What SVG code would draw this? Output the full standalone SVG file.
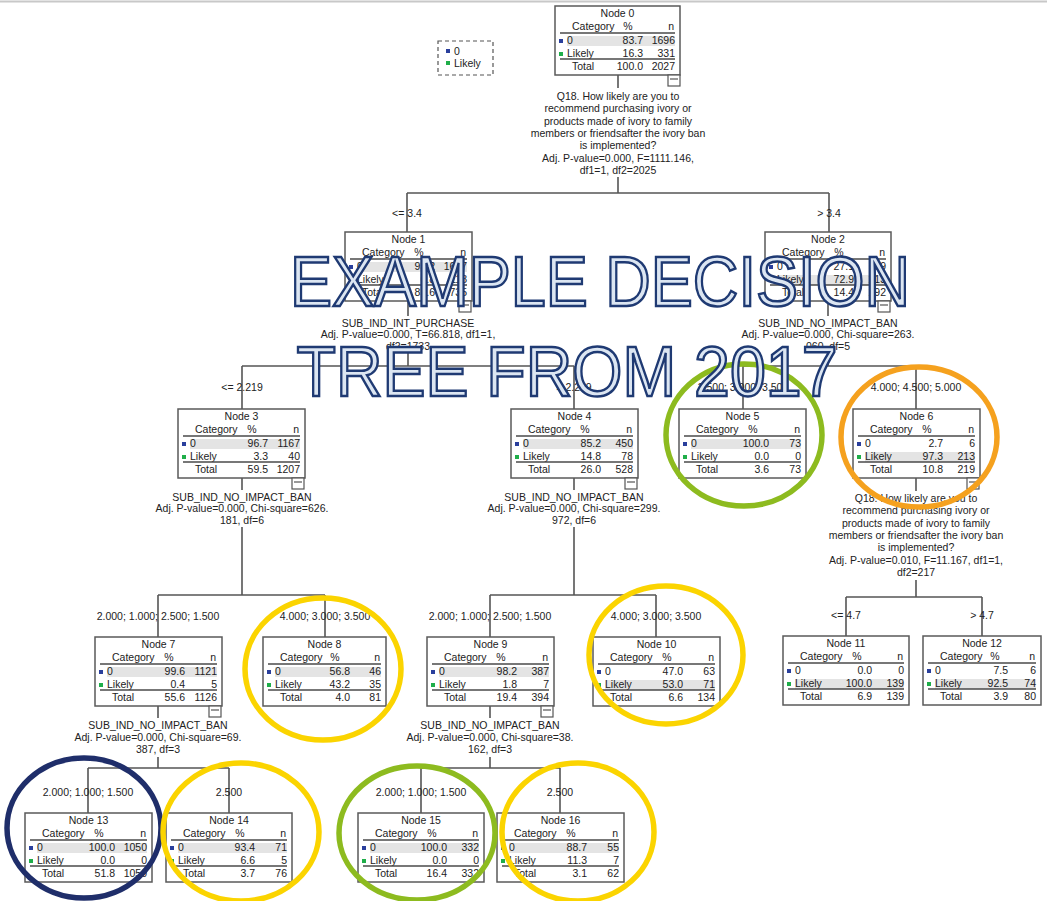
<svg xmlns="http://www.w3.org/2000/svg" width="1047" height="901" viewBox="0 0 1047 901">
<style>
.bg{fill:#fff}
.box{fill:#fff;stroke:#5a5a5a;stroke-width:1.5}
.t{font-family:"Liberation Sans",Arial,sans-serif;font-size:10.5px;fill:#222}
.s{font-family:"Liberation Sans",Arial,sans-serif;font-size:10.5px;fill:#222;text-anchor:middle}
.m{text-anchor:middle}
.e{text-anchor:end}
.hl{fill:#e4e4e4}
.sep{stroke:#4a4a4a;stroke-width:1.6}
.b{fill:#2a3f9c}
.g{fill:#1fae4a}
.conn{stroke:#555;stroke-width:1.6;fill:none}
.icon{fill:#fff;stroke:#555;stroke-width:1.2}
.ring{fill:none;stroke-width:5.5}
.title{font-family:"Liberation Sans",Arial,sans-serif;font-size:70px;fill:#dce6f2;stroke:#1f3a73;stroke-width:2.5;text-anchor:middle}
</style>
<rect class="bg" width="1047" height="901"/>
<line x1="0" y1="1.5" x2="1047" y2="1.5" stroke="#c8c8c8" stroke-width="2"/>

<g id="legend">
<rect x="438" y="41" width="55" height="34" fill="#fff" stroke="#555" stroke-width="1.2" stroke-dasharray="4,3"/>
<rect class="b" x="446" y="49" width="4" height="4"/><text class="t" x="454" y="55">0</text>
<rect class="g" x="446" y="61" width="4" height="4"/><text class="t" x="454" y="67">Likely</text>
</g>

<g id="connectors">
<path class="conn" d="M618,75V88M618,177V193M407,193H829M407,193V232M829,193V232"/>
<path class="conn" d="M408,300V316M408,352V366M242,366H574M242,366V409M574,366V409"/>
<path class="conn" d="M828,300V316M828,352V366M743,366H916M743,366V409M916,366V409"/>
<path class="conn" d="M242,478V490M242,527V595M158,595H325M158,595V637M325,595V637"/>
<path class="conn" d="M574,478V490M574,527V595M490,595H656M490,595V637M656,595V637"/>
<path class="conn" d="M916,478V491M916,580V597M846,597H982M846,597V636M982,597V636"/>
<path class="conn" d="M158,706V718M158,757V768M88,768H229M88,768V813M229,768V813"/>
<path class="conn" d="M490,706V718M490,757V768M421,768H560M421,768V813M560,768V813"/>
<g class="t m" font-size="11px">
<text x="407" y="217">&lt;= 3.4</text><text x="829" y="217">&gt; 3.4</text>
<text x="242" y="391">&lt;= 2.219</text><text x="574" y="391">&gt; 2.219</text>
<text x="743" y="391">2.500; 3.000; 3.500</text><text x="916" y="391">4.000; 4.500; 5.000</text>
<text x="158" y="620">2.000; 1.000; 2.500; 1.500</text><text x="325" y="620">4.000; 3.000; 3.500</text>
<text x="490" y="620">2.000; 1.000; 2.500; 1.500</text><text x="656" y="620">4.000; 3.000; 3.500</text>
<text x="846" y="619">&lt;= 4.7</text><text x="982" y="619">&gt; 4.7</text>
<text x="88" y="796">2.000; 1.000; 1.500</text><text x="229" y="796">2.500</text>
<text x="421" y="796">2.000; 1.000; 1.500</text><text x="560" y="796">2.500</text>
</g>
<g class="s">
<text x="618" y="100">Q18. How likely are you to</text>
<text x="618" y="112">recommend purchasing ivory or</text>
<text x="618" y="125">products made of ivory to family</text>
<text x="618" y="137">members or friendsafter the ivory ban</text>
<text x="618" y="149">is implemented?</text>
<text x="618" y="162">Adj. P-value=0.000, F=1111.146,</text>
<text x="618" y="174">df1=1, df2=2025</text>
<text x="408" y="327">SUB_IND_INT_PURCHASE</text>
<text x="408" y="338">Adj. P-value=0.000, T=66.818, df1=1,</text>
<text x="408" y="350">df2=1733</text>
<text x="828" y="327">SUB_IND_NO_IMPACT_BAN</text>
<text x="828" y="338">Adj. P-value=0.000, Chi-square=263.</text>
<text x="828" y="350">060, df=5</text>
<text x="242" y="501">SUB_IND_NO_IMPACT_BAN</text>
<text x="242" y="512">Adj. P-value=0.000, Chi-square=626.</text>
<text x="242" y="524">181, df=6</text>
<text x="574" y="501">SUB_IND_NO_IMPACT_BAN</text>
<text x="574" y="512">Adj. P-value=0.000, Chi-square=299.</text>
<text x="574" y="524">972, df=6</text>
<text x="916" y="502">Q18. How likely are you to</text>
<text x="916" y="514">recommend purchasing ivory or</text>
<text x="916" y="527">products made of ivory to family</text>
<text x="916" y="539">members or friendsafter the ivory ban</text>
<text x="916" y="551">is implemented?</text>
<text x="916" y="564">Adj. P-value=0.010, F=11.167, df1=1,</text>
<text x="916" y="576">df2=217</text>
<text x="158" y="729">SUB_IND_NO_IMPACT_BAN</text>
<text x="158" y="741">Adj. P-value=0.000, Chi-square=69.</text>
<text x="158" y="753">387, df=3</text>
<text x="490" y="729">SUB_IND_NO_IMPACT_BAN</text>
<text x="490" y="741">Adj. P-value=0.000, Chi-square=38.</text>
<text x="490" y="753">162, df=3</text>
</g>
</g>

<g id="node0" transform="translate(555,6)">
<rect class="box" width="125" height="69"/>
<rect class="hl" x="12" y="30" width="108" height="10"/>
<text class="t m" x="62.5" y="11">Node 0</text>
<text class="t" x="17" y="24">Category</text><text class="t m" x="73" y="24">%</text><text class="t e" x="119" y="24">n</text>
<line class="sep" x1="5" y1="27" x2="120" y2="27"/>
<rect class="b" x="4" y="33" width="4" height="4"/><text class="t" x="12" y="38">0</text><text class="t e" x="88" y="38">83.7</text><text class="t e" x="120" y="38">1696</text>
<rect class="g" x="4" y="46" width="4" height="4"/><text class="t" x="12" y="51">Likely</text><text class="t e" x="88" y="51">16.3</text><text class="t e" x="120" y="51">331</text>
<line class="sep" x1="5" y1="53" x2="120" y2="53"/>
<text class="t" x="17" y="64">Total</text><text class="t e" x="88" y="64">100.0</text><text class="t e" x="120" y="64">2027</text>
<rect class="icon" x="113" y="69" width="12" height="11"/><line class="icon" x1="115" y1="73" x2="123" y2="73"/>
</g>

<g id="node1" transform="translate(345,232)">
<rect class="box" width="127" height="69"/>
<rect class="hl" x="12" y="30" width="110" height="10"/>
<text class="t m" x="63.5" y="11">Node 1</text>
<text class="t" x="17" y="24">Category</text><text class="t m" x="74" y="24">%</text><text class="t e" x="121" y="24">n</text>
<line class="sep" x1="5" y1="27" x2="122" y2="27"/>
<rect class="b" x="4" y="33" width="4" height="4"/><text class="t" x="12" y="38">0</text><text class="t e" x="90" y="38">93.2</text><text class="t e" x="122" y="38">1617</text>
<rect class="g" x="4" y="46" width="4" height="4"/><text class="t" x="12" y="51">Likely</text><text class="t e" x="90" y="51">6.8</text><text class="t e" x="122" y="51">118</text>
<line class="sep" x1="5" y1="53" x2="122" y2="53"/>
<text class="t" x="17" y="64">Total</text><text class="t e" x="90" y="64">85.6</text><text class="t e" x="122" y="64">1735</text>
<rect class="icon" x="114" y="69" width="12" height="11"/><line class="icon" x1="116" y1="73" x2="124" y2="73"/>
</g>

<g id="node2" transform="translate(765,232)">
<rect class="box" width="126" height="69"/>
<rect class="hl" x="12" y="43" width="109" height="10"/>
<text class="t m" x="63" y="11">Node 2</text>
<text class="t" x="17" y="24">Category</text><text class="t m" x="74" y="24">%</text><text class="t e" x="120" y="24">n</text>
<line class="sep" x1="5" y1="27" x2="121" y2="27"/>
<rect class="b" x="4" y="33" width="4" height="4"/><text class="t" x="12" y="38">0</text><text class="t e" x="89" y="38">27.1</text><text class="t e" x="121" y="38">79</text>
<rect class="g" x="4" y="46" width="4" height="4"/><text class="t" x="12" y="51">Likely</text><text class="t e" x="89" y="51">72.9</text><text class="t e" x="121" y="51">213</text>
<line class="sep" x1="5" y1="53" x2="121" y2="53"/>
<text class="t" x="17" y="64">Total</text><text class="t e" x="89" y="64">14.4</text><text class="t e" x="121" y="64">292</text>
<rect class="icon" x="113" y="69" width="12" height="11"/><line class="icon" x1="115" y1="73" x2="123" y2="73"/>
</g>

<g id="node3" transform="translate(178,409)">
<rect class="box" width="127" height="69"/>
<rect class="hl" x="12" y="30" width="110" height="10"/>
<text class="t m" x="63.5" y="11">Node 3</text>
<text class="t" x="17" y="24">Category</text><text class="t m" x="74" y="24">%</text><text class="t e" x="121" y="24">n</text>
<line class="sep" x1="5" y1="27" x2="122" y2="27"/>
<rect class="b" x="4" y="33" width="4" height="4"/><text class="t" x="12" y="38">0</text><text class="t e" x="90" y="38">96.7</text><text class="t e" x="122" y="38">1167</text>
<rect class="g" x="4" y="46" width="4" height="4"/><text class="t" x="12" y="51">Likely</text><text class="t e" x="90" y="51">3.3</text><text class="t e" x="122" y="51">40</text>
<line class="sep" x1="5" y1="53" x2="122" y2="53"/>
<text class="t" x="17" y="64">Total</text><text class="t e" x="90" y="64">59.5</text><text class="t e" x="122" y="64">1207</text>
<rect class="icon" x="114" y="69" width="12" height="11"/><line class="icon" x1="116" y1="73" x2="124" y2="73"/>
</g>

<g id="node4" transform="translate(511,409)">
<rect class="box" width="127" height="69"/>
<rect class="hl" x="12" y="30" width="110" height="10"/>
<text class="t m" x="63.5" y="11">Node 4</text>
<text class="t" x="17" y="24">Category</text><text class="t m" x="74" y="24">%</text><text class="t e" x="121" y="24">n</text>
<line class="sep" x1="5" y1="27" x2="122" y2="27"/>
<rect class="b" x="4" y="33" width="4" height="4"/><text class="t" x="12" y="38">0</text><text class="t e" x="90" y="38">85.2</text><text class="t e" x="122" y="38">450</text>
<rect class="g" x="4" y="46" width="4" height="4"/><text class="t" x="12" y="51">Likely</text><text class="t e" x="90" y="51">14.8</text><text class="t e" x="122" y="51">78</text>
<line class="sep" x1="5" y1="53" x2="122" y2="53"/>
<text class="t" x="17" y="64">Total</text><text class="t e" x="90" y="64">26.0</text><text class="t e" x="122" y="64">528</text>
<rect class="icon" x="114" y="69" width="12" height="11"/><line class="icon" x1="116" y1="73" x2="124" y2="73"/>
</g>

<g id="node5" transform="translate(679,409)">
<rect class="box" width="127" height="69"/>
<rect class="hl" x="12" y="30" width="110" height="10"/>
<text class="t m" x="63.5" y="11">Node 5</text>
<text class="t" x="17" y="24">Category</text><text class="t m" x="74" y="24">%</text><text class="t e" x="121" y="24">n</text>
<line class="sep" x1="5" y1="27" x2="122" y2="27"/>
<rect class="b" x="4" y="33" width="4" height="4"/><text class="t" x="12" y="38">0</text><text class="t e" x="90" y="38">100.0</text><text class="t e" x="122" y="38">73</text>
<rect class="g" x="4" y="46" width="4" height="4"/><text class="t" x="12" y="51">Likely</text><text class="t e" x="90" y="51">0.0</text><text class="t e" x="122" y="51">0</text>
<line class="sep" x1="5" y1="53" x2="122" y2="53"/>
<text class="t" x="17" y="64">Total</text><text class="t e" x="90" y="64">3.6</text><text class="t e" x="122" y="64">73</text>
</g>

<g id="node6" transform="translate(853,409)">
<rect class="box" width="127" height="69"/>
<rect class="hl" x="12" y="43" width="110" height="10"/>
<text class="t m" x="63.5" y="11">Node 6</text>
<text class="t" x="17" y="24">Category</text><text class="t m" x="74" y="24">%</text><text class="t e" x="121" y="24">n</text>
<line class="sep" x1="5" y1="27" x2="122" y2="27"/>
<rect class="b" x="4" y="33" width="4" height="4"/><text class="t" x="12" y="38">0</text><text class="t e" x="90" y="38">2.7</text><text class="t e" x="122" y="38">6</text>
<rect class="g" x="4" y="46" width="4" height="4"/><text class="t" x="12" y="51">Likely</text><text class="t e" x="90" y="51">97.3</text><text class="t e" x="122" y="51">213</text>
<line class="sep" x1="5" y1="53" x2="122" y2="53"/>
<text class="t" x="17" y="64">Total</text><text class="t e" x="90" y="64">10.8</text><text class="t e" x="122" y="64">219</text>
<rect class="icon" x="114" y="69" width="12" height="11"/><line class="icon" x1="116" y1="73" x2="124" y2="73"/>
</g>

<g id="node7" transform="translate(95,637)">
<rect class="box" width="127" height="69"/>
<rect class="hl" x="12" y="30" width="110" height="10"/>
<text class="t m" x="63.5" y="11">Node 7</text>
<text class="t" x="17" y="24">Category</text><text class="t m" x="74" y="24">%</text><text class="t e" x="121" y="24">n</text>
<line class="sep" x1="5" y1="27" x2="122" y2="27"/>
<rect class="b" x="4" y="33" width="4" height="4"/><text class="t" x="12" y="38">0</text><text class="t e" x="90" y="38">99.6</text><text class="t e" x="122" y="38">1121</text>
<rect class="g" x="4" y="46" width="4" height="4"/><text class="t" x="12" y="51">Likely</text><text class="t e" x="90" y="51">0.4</text><text class="t e" x="122" y="51">5</text>
<line class="sep" x1="5" y1="53" x2="122" y2="53"/>
<text class="t" x="17" y="64">Total</text><text class="t e" x="90" y="64">55.6</text><text class="t e" x="122" y="64">1126</text>
<rect class="icon" x="114" y="69" width="12" height="11"/><line class="icon" x1="116" y1="73" x2="124" y2="73"/>
</g>

<g id="node8" transform="translate(263,637)">
<rect class="box" width="123" height="69"/>
<rect class="hl" x="12" y="30" width="106" height="10"/>
<text class="t m" x="61.5" y="11">Node 8</text>
<text class="t" x="17" y="24">Category</text><text class="t m" x="72" y="24">%</text><text class="t e" x="117" y="24">n</text>
<line class="sep" x1="5" y1="27" x2="118" y2="27"/>
<rect class="b" x="4" y="33" width="4" height="4"/><text class="t" x="12" y="38">0</text><text class="t e" x="87" y="38">56.8</text><text class="t e" x="118" y="38">46</text>
<rect class="g" x="4" y="46" width="4" height="4"/><text class="t" x="12" y="51">Likely</text><text class="t e" x="87" y="51">43.2</text><text class="t e" x="118" y="51">35</text>
<line class="sep" x1="5" y1="53" x2="118" y2="53"/>
<text class="t" x="17" y="64">Total</text><text class="t e" x="87" y="64">4.0</text><text class="t e" x="118" y="64">81</text>
</g>

<g id="node9" transform="translate(427,637)">
<rect class="box" width="127" height="69"/>
<rect class="hl" x="12" y="30" width="110" height="10"/>
<text class="t m" x="63.5" y="11">Node 9</text>
<text class="t" x="17" y="24">Category</text><text class="t m" x="74" y="24">%</text><text class="t e" x="121" y="24">n</text>
<line class="sep" x1="5" y1="27" x2="122" y2="27"/>
<rect class="b" x="4" y="33" width="4" height="4"/><text class="t" x="12" y="38">0</text><text class="t e" x="90" y="38">98.2</text><text class="t e" x="122" y="38">387</text>
<rect class="g" x="4" y="46" width="4" height="4"/><text class="t" x="12" y="51">Likely</text><text class="t e" x="90" y="51">1.8</text><text class="t e" x="122" y="51">7</text>
<line class="sep" x1="5" y1="53" x2="122" y2="53"/>
<text class="t" x="17" y="64">Total</text><text class="t e" x="90" y="64">19.4</text><text class="t e" x="122" y="64">394</text>
<rect class="icon" x="114" y="69" width="12" height="11"/><line class="icon" x1="116" y1="73" x2="124" y2="73"/>
</g>

<g id="node10" transform="translate(593,637)">
<rect class="box" width="127" height="69"/>
<rect class="hl" x="12" y="43" width="110" height="10"/>
<text class="t m" x="63.5" y="11">Node 10</text>
<text class="t" x="17" y="24">Category</text><text class="t m" x="74" y="24">%</text><text class="t e" x="121" y="24">n</text>
<line class="sep" x1="5" y1="27" x2="122" y2="27"/>
<rect class="b" x="4" y="33" width="4" height="4"/><text class="t" x="12" y="38">0</text><text class="t e" x="90" y="38">47.0</text><text class="t e" x="122" y="38">63</text>
<rect class="g" x="4" y="46" width="4" height="4"/><text class="t" x="12" y="51">Likely</text><text class="t e" x="90" y="51">53.0</text><text class="t e" x="122" y="51">71</text>
<line class="sep" x1="5" y1="53" x2="122" y2="53"/>
<text class="t" x="17" y="64">Total</text><text class="t e" x="90" y="64">6.6</text><text class="t e" x="122" y="64">134</text>
</g>

<g id="node11" transform="translate(783,636)">
<rect class="box" width="126" height="69"/>
<rect class="hl" x="12" y="43" width="109" height="10"/>
<text class="t m" x="63" y="11">Node 11</text>
<text class="t" x="17" y="24">Category</text><text class="t m" x="74" y="24">%</text><text class="t e" x="120" y="24">n</text>
<line class="sep" x1="5" y1="27" x2="121" y2="27"/>
<rect class="b" x="4" y="33" width="4" height="4"/><text class="t" x="12" y="38">0</text><text class="t e" x="89" y="38">0.0</text><text class="t e" x="121" y="38">0</text>
<rect class="g" x="4" y="46" width="4" height="4"/><text class="t" x="12" y="51">Likely</text><text class="t e" x="89" y="51">100.0</text><text class="t e" x="121" y="51">139</text>
<line class="sep" x1="5" y1="53" x2="121" y2="53"/>
<text class="t" x="17" y="64">Total</text><text class="t e" x="89" y="64">6.9</text><text class="t e" x="121" y="64">139</text>
</g>

<g id="node12" transform="translate(923,636)">
<rect class="box" width="118" height="69"/>
<rect class="hl" x="12" y="43" width="101" height="10"/>
<text class="t m" x="59" y="11">Node 12</text>
<text class="t" x="17" y="24">Category</text><text class="t m" x="72" y="24">%</text><text class="t e" x="112" y="24">n</text>
<line class="sep" x1="5" y1="27" x2="113" y2="27"/>
<rect class="b" x="4" y="33" width="4" height="4"/><text class="t" x="12" y="38">0</text><text class="t e" x="85" y="38">7.5</text><text class="t e" x="113" y="38">6</text>
<rect class="g" x="4" y="46" width="4" height="4"/><text class="t" x="12" y="51">Likely</text><text class="t e" x="85" y="51">92.5</text><text class="t e" x="113" y="51">74</text>
<line class="sep" x1="5" y1="53" x2="113" y2="53"/>
<text class="t" x="17" y="64">Total</text><text class="t e" x="85" y="64">3.9</text><text class="t e" x="113" y="64">80</text>
</g>

<g id="node13" transform="translate(25,813)">
<rect class="box" width="127" height="69"/>
<rect class="hl" x="12" y="30" width="110" height="10"/>
<text class="t m" x="63.5" y="11">Node 13</text>
<text class="t" x="17" y="24">Category</text><text class="t m" x="74" y="24">%</text><text class="t e" x="121" y="24">n</text>
<line class="sep" x1="5" y1="27" x2="122" y2="27"/>
<rect class="b" x="4" y="33" width="4" height="4"/><text class="t" x="12" y="38">0</text><text class="t e" x="90" y="38">100.0</text><text class="t e" x="122" y="38">1050</text>
<rect class="g" x="4" y="46" width="4" height="4"/><text class="t" x="12" y="51">Likely</text><text class="t e" x="90" y="51">0.0</text><text class="t e" x="122" y="51">0</text>
<line class="sep" x1="5" y1="53" x2="122" y2="53"/>
<text class="t" x="17" y="64">Total</text><text class="t e" x="90" y="64">51.8</text><text class="t e" x="122" y="64">1050</text>
</g>

<g id="node14" transform="translate(166,813)">
<rect class="box" width="126" height="69"/>
<rect class="hl" x="12" y="30" width="109" height="10"/>
<text class="t m" x="63" y="11">Node 14</text>
<text class="t" x="17" y="24">Category</text><text class="t m" x="74" y="24">%</text><text class="t e" x="120" y="24">n</text>
<line class="sep" x1="5" y1="27" x2="121" y2="27"/>
<rect class="b" x="4" y="33" width="4" height="4"/><text class="t" x="12" y="38">0</text><text class="t e" x="89" y="38">93.4</text><text class="t e" x="121" y="38">71</text>
<rect class="g" x="4" y="46" width="4" height="4"/><text class="t" x="12" y="51">Likely</text><text class="t e" x="89" y="51">6.6</text><text class="t e" x="121" y="51">5</text>
<line class="sep" x1="5" y1="53" x2="121" y2="53"/>
<text class="t" x="17" y="64">Total</text><text class="t e" x="89" y="64">3.7</text><text class="t e" x="121" y="64">76</text>
</g>

<g id="node15" transform="translate(358,813)">
<rect class="box" width="126" height="69"/>
<rect class="hl" x="12" y="30" width="109" height="10"/>
<text class="t m" x="63" y="11">Node 15</text>
<text class="t" x="17" y="24">Category</text><text class="t m" x="74" y="24">%</text><text class="t e" x="120" y="24">n</text>
<line class="sep" x1="5" y1="27" x2="121" y2="27"/>
<rect class="b" x="4" y="33" width="4" height="4"/><text class="t" x="12" y="38">0</text><text class="t e" x="89" y="38">100.0</text><text class="t e" x="121" y="38">332</text>
<rect class="g" x="4" y="46" width="4" height="4"/><text class="t" x="12" y="51">Likely</text><text class="t e" x="89" y="51">0.0</text><text class="t e" x="121" y="51">0</text>
<line class="sep" x1="5" y1="53" x2="121" y2="53"/>
<text class="t" x="17" y="64">Total</text><text class="t e" x="89" y="64">16.4</text><text class="t e" x="121" y="64">332</text>
</g>

<g id="node16" transform="translate(497,813)">
<rect class="box" width="127" height="69"/>
<rect class="hl" x="12" y="30" width="110" height="10"/>
<text class="t m" x="63.5" y="11">Node 16</text>
<text class="t" x="17" y="24">Category</text><text class="t m" x="74" y="24">%</text><text class="t e" x="121" y="24">n</text>
<line class="sep" x1="5" y1="27" x2="122" y2="27"/>
<rect class="b" x="4" y="33" width="4" height="4"/><text class="t" x="12" y="38">0</text><text class="t e" x="90" y="38">88.7</text><text class="t e" x="122" y="38">55</text>
<rect class="g" x="4" y="46" width="4" height="4"/><text class="t" x="12" y="51">Likely</text><text class="t e" x="90" y="51">11.3</text><text class="t e" x="122" y="51">7</text>
<line class="sep" x1="5" y1="53" x2="122" y2="53"/>
<text class="t" x="17" y="64">Total</text><text class="t e" x="90" y="64">3.1</text><text class="t e" x="122" y="64">62</text>
</g>

<g id="highlights">
<ellipse class="ring" cx="744" cy="435" rx="78" ry="71" stroke="#8dbb1f"/>
<ellipse class="ring" cx="919" cy="437" rx="78" ry="70" stroke="#f5a11e"/>
<ellipse class="ring" cx="323" cy="669" rx="78" ry="71" stroke="#fbd400"/>
<ellipse class="ring" cx="666" cy="655" rx="77" ry="69" stroke="#fbd400"/>
<ellipse class="ring" cx="84" cy="828" rx="77" ry="70" stroke="#1f2e6a"/>
<ellipse class="ring" cx="241" cy="832" rx="78" ry="69" stroke="#fbd400"/>
<ellipse class="ring" cx="417" cy="833" rx="78" ry="67" stroke="#8dbb1f"/>
<ellipse class="ring" cx="578" cy="832" rx="76" ry="69" stroke="#fbd400"/>
</g>

<g id="title">
<text class="title" x="600" y="306" textLength="620" lengthAdjust="spacingAndGlyphs">EXAMPLE DECISION</text>
<text class="title" x="567" y="396" textLength="541" lengthAdjust="spacingAndGlyphs">TREE FROM 2017</text>
</g>
</svg>
